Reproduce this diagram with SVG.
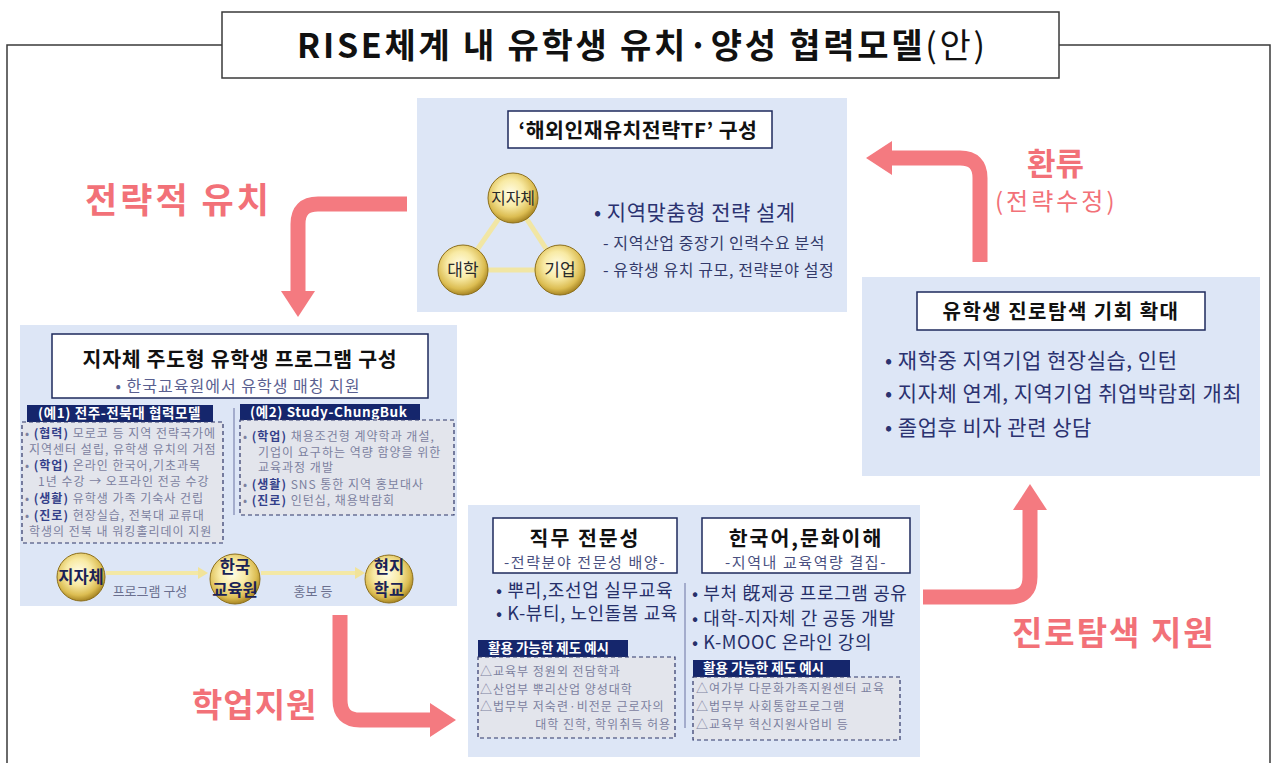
<svg xmlns="http://www.w3.org/2000/svg" width="1276" height="763" viewBox="0 0 1276 763">
<defs>
<style>
text{font-family:"Noto Sans CJK KR","Noto Sans",sans-serif;}
.panel{fill:#dde6f6;}
.hbox{fill:#ffffff;stroke:#1e2a5c;stroke-width:1.5;}
.bar{fill:#15266c;}
.bartxt{fill:#ffffff;font-weight:bold;font-size:13.5px;}
.dash{fill:#e3e5ec;stroke:#2f3668;stroke-width:1.2;stroke-dasharray:4 3;}
.ex{fill:#7c819f;font-size:12px;letter-spacing:1px;}
.exb{fill:#33408a;font-weight:bold;}
.pink{fill:none;stroke:#f47a80;stroke-width:15;marker-end:url(#pinkHead);}
.plabel{fill:#f27178;font-weight:bold;}
.yl{stroke:#f1e6a4;stroke-width:5;}
.yarrow{stroke:#f3e8a6;stroke-width:4;marker-end:url(#yHead);}
.ball{fill:url(#gold);stroke:#8c6f1c;stroke-width:1;}
.ctxt{fill:#2a2a2a;text-anchor:middle;}
.ftxt{fill:#1a2256;text-anchor:middle;font-weight:bold;font-size:16.5px;}
.btxt{fill:#26306a;font-size:18px;}
.htxt{font-size:20.5px;font-weight:bold;fill:#111;text-anchor:middle;letter-spacing:2px;}
.stxt{font-size:15px;fill:#4a5080;text-anchor:middle;letter-spacing:1.6px;}
.gtxt{fill:#6a6f8f;font-size:13px;text-anchor:middle;}
.sep{stroke:#6a72a2;stroke-width:1;}
</style>
<radialGradient id="gold" cx="45%" cy="40%" r="60%">
<stop offset="0%" stop-color="#fffce6"/>
<stop offset="45%" stop-color="#f8eaa4"/>
<stop offset="80%" stop-color="#dcbd52"/>
<stop offset="100%" stop-color="#a88624"/>
</radialGradient>
<marker id="pinkHead" viewBox="0 0 26 34" refX="2" refY="17" markerWidth="26" markerHeight="34" orient="auto" markerUnits="userSpaceOnUse">
<path d="M0,0 L26,17 L0,34 Z" fill="#f47a80"/>
</marker>
<marker id="yHead" viewBox="0 0 10 12" refX="2" refY="6" markerWidth="10" markerHeight="12" orient="auto" markerUnits="userSpaceOnUse">
<path d="M0,0 L10,6 L0,12 Z" fill="#f1e39a"/>
</marker>
</defs>

<rect x="0" y="0" width="1276" height="763" fill="#ffffff"/>

<g id="frame">
<path d="M7,763 V45 H222 M1059,45 H1270 V763" fill="none" stroke="#3a3a3a" stroke-width="1.5"/>
<rect x="222" y="12" width="837" height="66" fill="#ffffff" stroke="#3a3a3a" stroke-width="1.5"/>
<text x="297" y="58" font-size="34" font-weight="bold" fill="#111" textLength="688" lengthAdjust="spacing">RISE체계 내 유학생 유치·양성 협력모델<tspan font-weight="normal">(안)</tspan></text>
</g>

<g id="panels">
<rect class="panel" x="417" y="98" width="430" height="214"/>
<rect class="panel" x="20" y="325" width="437" height="281"/>
<rect class="panel" x="468" y="505" width="452" height="252"/>
<rect class="panel" x="862" y="277" width="398" height="199"/>
</g>

<g id="connectors">
<path class="pink" d="M407,204 H318 Q298,204 298,224 V293"/>
<path class="pink" d="M340,615 V700 Q340,720 360,720 H432"/>
<path class="pink" d="M923,597 H1010 Q1030,597 1030,577 V508"/>
<path class="pink" d="M980,262 V178 Q980,158 960,158 H890"/>
<text class="plabel" x="85" y="213" font-size="35" letter-spacing="3">전략적 유치</text>
<text class="plabel" x="192" y="717" font-size="33" letter-spacing="1">학업지원</text>
<text class="plabel" x="1012" y="645" font-size="33" letter-spacing="2">진로탐색 지원</text>
<text class="plabel" x="1027" y="175" font-size="31">환류</text>
<text x="995" y="210" font-size="24" letter-spacing="3" fill="#f27178">(전략수정)</text>
<line class="yl" x1="513" y1="198" x2="463" y2="270"/>
<line class="yl" x1="513" y1="198" x2="560" y2="270"/>
<line class="yl" x1="463" y1="270" x2="560" y2="270"/>
<line class="yarrow" x1="106" y1="573" x2="200" y2="573"/>
<line class="yarrow" x1="261" y1="573" x2="357" y2="573"/>
<text class="gtxt" x="150" y="596">프로그램 구성</text>
<text class="gtxt" x="313" y="596">홍보 등</text>
</g>

<g id="node-tf">
<rect class="hbox" x="508" y="111" width="264" height="37"/>
<text x="638" y="138" font-size="20.5" font-weight="bold" fill="#111" text-anchor="middle" letter-spacing="0.5">‘해외인재유치전략TF’ 구성</text>
<circle class="ball" cx="513" cy="198" r="25"/>
<circle class="ball" cx="463" cy="270" r="25"/>
<circle class="ball" cx="560" cy="270" r="25"/>
<text class="ctxt" x="513" y="204" font-size="16">지자체</text>
<text class="ctxt" x="463" y="276" font-size="17">대학</text>
<text class="ctxt" x="560" y="276" font-size="17">기업</text>
<text x="594" y="220" font-size="21" fill="#2b3270" letter-spacing="0.5">• 지역맞춤형 전략 설계</text>
<text x="603" y="249" font-size="16" fill="#333a6a" letter-spacing="0.6">- 지역산업 중장기 인력수요 분석</text>
<text x="603" y="276" font-size="16" fill="#333a6a" letter-spacing="0.6">- 유학생 유치 규모, 전략분야 설정</text>
</g>

<g id="node-local">
<rect class="hbox" x="52" y="334" width="376" height="64"/>
<text x="240" y="367" font-size="20.5" font-weight="bold" fill="#111" text-anchor="middle" letter-spacing="0.7">지자체 주도형 유학생 프로그램 구성</text>
<text x="238" y="392" font-size="16" fill="#5a6090" text-anchor="middle" letter-spacing="1">• 한국교육원에서 유학생 매칭 지원</text>
<rect class="bar" x="27" y="405" width="186" height="17"/>
<text class="bartxt" x="38" y="418" font-size="14.5" letter-spacing="0.6">(예1) 전주-전북대 협력모델</text>
<rect class="dash" x="22" y="422" width="201" height="121"/>
<text class="ex" x="25" y="438">• <tspan class="exb">(협력)</tspan> 모로코 등 지역 전략국가에</text>
<text class="ex" x="29" y="454">지역센터 설립, 유학생 유치의 거점</text>
<text class="ex" x="25" y="470">• <tspan class="exb">(학업)</tspan> 온라인 한국어,기초과목</text>
<text class="ex" x="38" y="486">1년 수강 → 오프라인 전공 수강</text>
<text class="ex" x="25" y="503">• <tspan class="exb">(생활)</tspan> 유학생 가족 기숙사 건립</text>
<text class="ex" x="25" y="520">• <tspan class="exb">(진로)</tspan> 현장실습, 전북대 교류대</text>
<text class="ex" x="29" y="536">학생의 전북 내 워킹홀리데이 지원</text>
<line class="sep" x1="234" y1="408" x2="234" y2="515"/>
<rect class="bar" x="240" y="404" width="180" height="16"/>
<text class="bartxt" x="250" y="417" font-size="15" letter-spacing="0.6">(예2) Study-ChungBuk</text>
<rect class="dash" x="240" y="420" width="214" height="95"/>
<text class="ex" x="243" y="441">• <tspan class="exb">(학업)</tspan> 채용조건형 계약학과 개설,</text>
<text class="ex" x="258" y="457">기업이 요구하는 역량 함양을 위한</text>
<text class="ex" x="258" y="472">교육과정 개발</text>
<text class="ex" x="243" y="489">• <tspan class="exb">(생활)</tspan> SNS 통한 지역 홍보대사</text>
<text class="ex" x="243" y="505">• <tspan class="exb">(진로)</tspan> 인턴십, 채용박람회</text>
<circle class="ball" cx="81" cy="577" r="24"/>
<circle class="ball" cx="235" cy="579" r="25"/>
<circle class="ball" cx="389" cy="579" r="24"/>
<text class="ftxt" x="81" y="583" font-size="16">지자체</text>
<text class="ftxt" x="235" y="573">한국</text>
<text class="ftxt" x="235" y="596">교육원</text>
<text class="ftxt" x="389" y="573">현지</text>
<text class="ftxt" x="389" y="596">학교</text>
</g>

<g id="node-edu">
<rect class="hbox" x="493" y="518" width="184" height="55"/>
<text class="htxt" x="585" y="546">직무 전문성</text>
<text class="stxt" x="585" y="568">-전략분야 전문성 배양-</text>
<text class="btxt" x="496" y="597" letter-spacing="0.7">• 뿌리,조선업 실무교육</text>
<text class="btxt" x="496" y="620" letter-spacing="0.6">• K-뷰티, 노인돌봄 교육</text>
<rect class="bar" x="478" y="640" width="150" height="17"/>
<text class="bartxt" x="488" y="653">활용 가능한 제도 예시</text>
<rect class="dash" x="478" y="657" width="197" height="81"/>
<text class="ex" x="480" y="676">△교육부 정원외 전담학과</text>
<text class="ex" x="480" y="694">△산업부 뿌리산업 양성대학</text>
<text class="ex" x="480" y="711" letter-spacing="0.9">△법무부 저숙련·비전문 근로자의</text>
<text class="ex" x="671" y="729" text-anchor="end">대학 진학, 학위취득 허용</text>
<line class="sep" x1="685" y1="583" x2="685" y2="728"/>
<rect class="hbox" x="702" y="518" width="208" height="55"/>
<text class="htxt" x="806" y="546">한국어,문화이해</text>
<text class="stxt" x="806" y="568">-지역내 교육역량 결집-</text>
<text class="btxt" x="692" y="600" letter-spacing="0.6">• 부처 旣제공 프로그램 공유</text>
<text class="btxt" x="692" y="625" letter-spacing="0.6">• 대학-지자체 간 공동 개발</text>
<text class="btxt" x="692" y="649" letter-spacing="0.6">• K-MOOC 온라인 강의</text>
<rect class="bar" x="693" y="660" width="157" height="17"/>
<text class="bartxt" x="703" y="673">활용 가능한 제도 예시</text>
<rect class="dash" x="693" y="677" width="207" height="63"/>
<text class="ex" x="696" y="693">△여가부 다문화가족지원센터  교육</text>
<text class="ex" x="696" y="711">△법무부 사회통합프로그램</text>
<text class="ex" x="696" y="729">△교육부 혁신지원사업비 등</text>
</g>

<g id="node-career">
<rect class="hbox" x="917" y="292" width="288" height="38"/>
<text x="1061" y="319" font-size="20" font-weight="bold" fill="#111" text-anchor="middle" letter-spacing="1.5">유학생 진로탐색 기회 확대</text>
<text x="885" y="368" font-size="21" fill="#2b3270" letter-spacing="0.5">• 재학중 지역기업 현장실습, 인턴</text>
<text x="885" y="401" font-size="21" fill="#2b3270" letter-spacing="0.5">• 지자체 연계, 지역기업 취업박람회 개최</text>
<text x="885" y="435" font-size="21" fill="#2b3270" letter-spacing="0.5">• 졸업후 비자 관련 상담</text>
</g>
</svg>
